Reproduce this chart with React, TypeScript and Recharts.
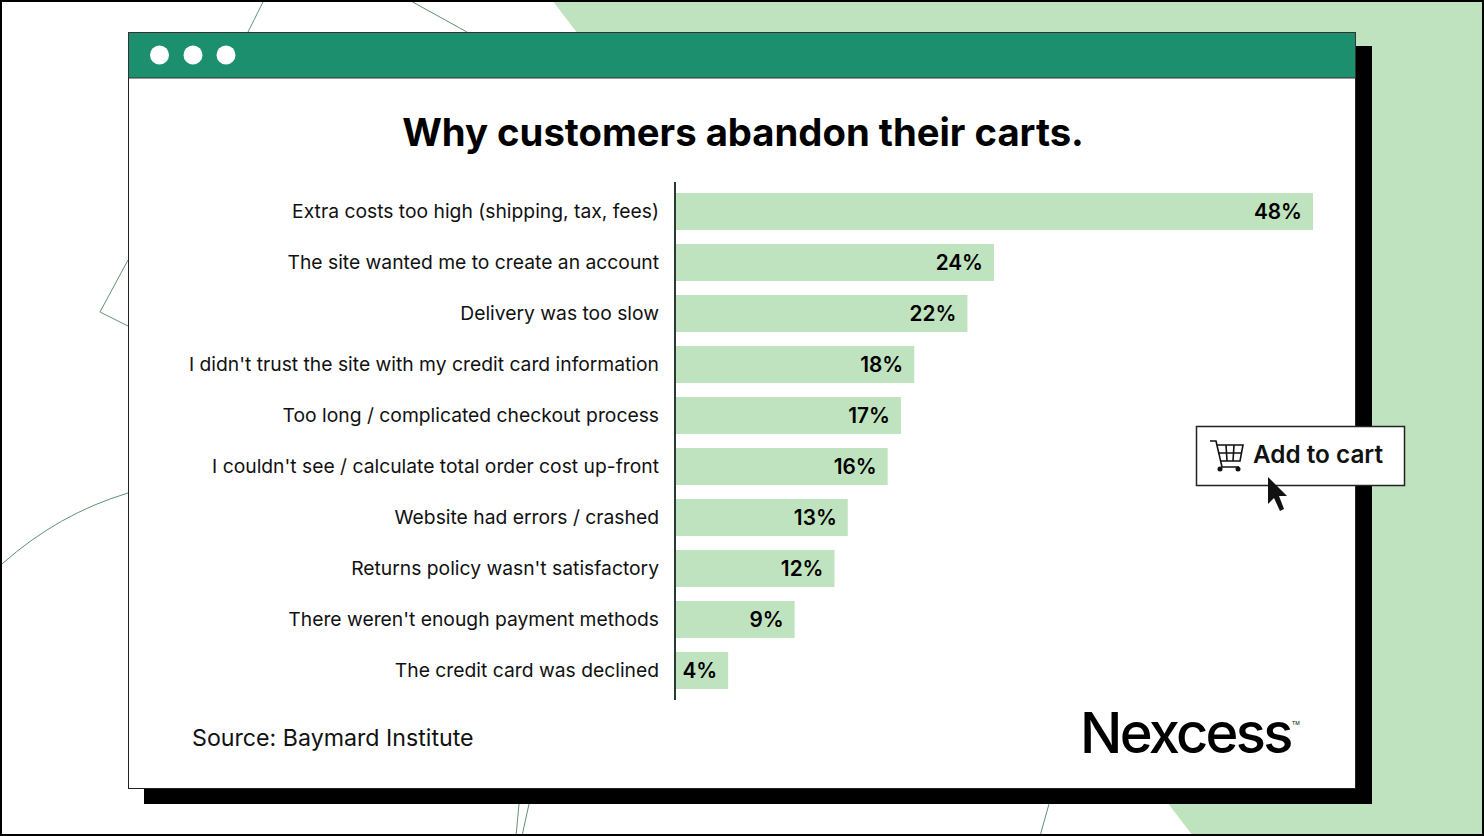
import { Bar, BarChart, LabelList, XAxis, YAxis } from 'recharts';

const reasons = [
    'Extra costs too high (shipping, tax, fees)',
    'The site wanted me to create an account',
    'Delivery was too slow',
    "I didn't trust the site with my credit card information",
    'Too long / complicated checkout process',
    "I couldn't see / calculate total order cost up-front",
    'Website had errors / crashed',
    "Returns policy wasn't satisfactory",
    "There weren't enough payment methods",
    'The credit card was declined',
];
const shares = [48, 24, 22, 18, 17, 16, 13, 12, 9, 4];

const chartData = reasons.map((reason, i) => ({ reason, share: shares[i] }));

const FONT = 'Inter, sans-serif';
const LIGHT_GREEN = '#c0e3bf';
const DARK_GREEN = '#1b8f6e';
const THIN_LINE = '#5f9470';

const layer = { position: 'absolute', left: 0, top: 0 } as const;

function Backdrop() {
    return (
        <svg width={1484} height={836} style={layer}>
            <rect width={1484} height={836} fill="#fff" />
            <polygon points="552,0 1484,0 1484,836 1193,836" fill={LIGHT_GREEN} />
            <g fill="none" stroke={THIN_LINE} strokeWidth={1}>
                <path d="M248,32 L264,0" />
                <path d="M409,0 L467,32" />
                <path d="M128,260 L100,312 L128,326" />
                <path d="M2,564 Q58,514 128,493" />
                <path d="M516,836 L519,804" />
                <path d="M522,836 L529,804" />
                <path d="M1040,836 L1049,804" />
            </g>
            <rect x={144} y={46} width={1228} height={758} fill="#000" />
            <rect x={128.5} y={32.5} width={1227} height={756} fill="#fff" stroke="#222" />
            <rect x={128.5} y={32.5} width={1227} height={45.5} fill={DARK_GREEN} stroke="#333" />
            <circle cx={159.5} cy={55} r={9.5} fill="#fff" />
            <circle cx={193} cy={55} r={9.5} fill="#fff" />
            <circle cx={226} cy={55} r={9.5} fill="#fff" />
            <rect x={1} y={1} width={1482} height={834} fill="none" stroke="#000" strokeWidth={2} />
        </svg>
    );
}

function Overlay() {
    return (
        <svg width={1484} height={836} style={layer}>
            <text x={743} y={146} textAnchor="middle" fontFamily={FONT} fontSize={38.25} fontWeight={700} fill="#000">
                Why customers abandon their carts.
            </text>
            <text x={192} y={746} fontFamily={FONT} fontSize={23.2} fill="#111">
                Source: Baymard Institute
            </text>
            <text x={1080} y={753} fontFamily={FONT} fontSize={56} fontWeight={500} letterSpacing={-2.7} fill="#000">
                Nexcess
            </text>
            <text x={1292} y={724.5} fontFamily={FONT} fontSize={5} fill="#000">
                TM
            </text>
            <rect x={1196.5} y={426.5} width={208} height={59} fill="#fff" stroke="#222" strokeWidth={1.5} />
            <g fill="none" stroke="#111" strokeWidth={1.6}>
                <path d="M1210,441 L1216,441 L1222,467 L1239,467" />
                <path d="M1217,445 L1243,445 L1240,461 L1220,461" />
                <path d="M1218,453 L1242,453 M1226,445 L1227,461 M1234,445 L1233,461" />
            </g>
            <circle cx={1220} cy={469} r={2.5} fill="#111" />
            <circle cx={1238} cy={469} r={2.5} fill="#111" />
            <text x={1253} y={463} fontFamily={FONT} fontSize={24.3} fontWeight={600} fill="#111">
                Add to cart
            </text>
            <path
                d="M1268,477 L1268,504 L1274,498 L1280,511 L1284,509 L1279,496 L1287,496 Z"
                fill="#111"
            />
        </svg>
    );
}

export default function App() {
    return (
        <div style={{ position: 'relative', width: 1484, height: 836 }}>
            <style>{'html, body { margin: 0; padding: 0; }'}</style>
            <Backdrop />
            <div style={layer}>
                <BarChart
                    width={1484}
                    height={836}
                    data={chartData}
                    layout="vertical"
                    barCategoryGap={7}
                    margin={{ top: 182, right: 171, bottom: 136, left: 0 }}>
                    <XAxis type="number" domain={[0, 48]} hide />
                    <YAxis
                        type="category"
                        dataKey="reason"
                        width={675}
                        interval={0}
                        padding={{ top: 4, bottom: 4 }}
                        axisLine={{ stroke: '#2a3a35', strokeWidth: 2 }}
                        tickLine={false}
                        tickSize={0}
                        tickMargin={16}
                        tick={{ fontFamily: FONT, fontSize: 19.3, fill: '#111', dy: -0.5 }}
                    />
                    <Bar dataKey="share" fill={LIGHT_GREEN} barSize={37} isAnimationActive={false}>
                        <LabelList
                            dataKey="share"
                            position="insideRight"
                            offset={11}
                            formatter={(v: number) => `${v}%`}
                            style={{ fontFamily: FONT, fontSize: 20.8, fontWeight: 600, fill: '#000' }}
                        />
                    </Bar>
                </BarChart>
            </div>
            <Overlay />
        </div>
    );
}
